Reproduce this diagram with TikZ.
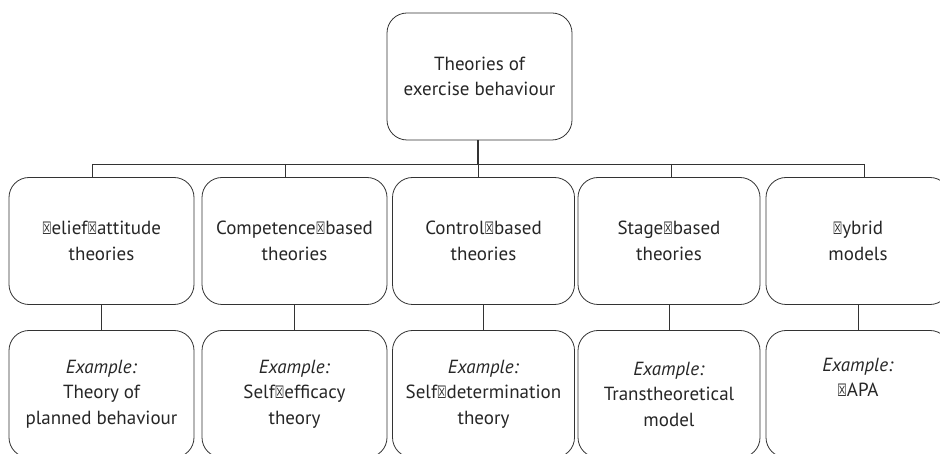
\documentclass[tikz,border=0pt]{standalone}
\usepackage{fontspec}
\setmainfont{PT Sans}
\newfontfamily\boxfont{DejaVu Sans}[Scale=0.9]
\usetikzlibrary{positioning}

\newcommand{\nog}{{\boxfont\scalebox{0.62}[1]{☒}}}
\definecolor{linegray}{HTML}{333333}

\tikzset{
  theorybox/.style={draw=linegray, line width=0.8pt, rounded corners=20pt,
    minimum width=182pt, minimum height=127pt, align=center,
    font=\fontsize{19}{25.5}\selectfont, text=black!85},
  link/.style={draw=linegray, line width=0.8pt}
}

\begin{document}
\begin{tikzpicture}[x=1pt,y=-1pt]
\useasboundingbox (0,0) rectangle (940,454);
% top box
\node[theorybox, minimum width=185pt] (root) at (479.5,76.5) {Theories of\\exercise behaviour};
% second row
\node[theorybox, minimum width=185pt] (b1) at (101.5,241) {\nog elief\nog attitude\\theories};
\node[theorybox, minimum width=185pt] (b2) at (294.5,241) {Competence\nog based\\theories};
\node[theorybox] (b3) at (483.5,241) {Control\nog based\\theories};
\node[theorybox] (b4) at (669,241) {Stage\nog based\\theories};
\node[theorybox, minimum width=184pt] (b5) at (858,241) {\nog ybrid\\models};
% examples
\node[theorybox, minimum width=185pt] (e1) at (101.5,394) {\textit{Example:}\\Theory of\\planned behaviour};
\node[theorybox, minimum width=185pt] (e2) at (294.5,394) {\textit{Example:}\\Self\nog efficacy\\theory};
\node[theorybox] (e3) at (483.5,394) {\textit{Example:}\\Self\nog determination\\theory};
\node[theorybox] (e4) at (669,394) {\textit{Example:}\\Transtheoretical\\model};
\node[theorybox, minimum width=184pt] (e5) at (858,394) {\textit{Example:}\\\nog APA\\\strut};
% bar
\coordinate (t1) at (92,164);
\coordinate (t2) at (285,164);
\coordinate (t3) at (478,164);
\coordinate (t4) at (671,164);
\coordinate (t5) at (864,164);
\draw[link, line width=1.4pt] (root.south -| t3) -- (t3);
\draw[link] (t1) -- (t5);
\foreach \i in {1,...,5} {
  \draw[link] (t\i) -- (t\i |- b\i.north);
  \draw[link] (b\i.south) -- (e\i.north);
}
\end{tikzpicture}
\end{document}
